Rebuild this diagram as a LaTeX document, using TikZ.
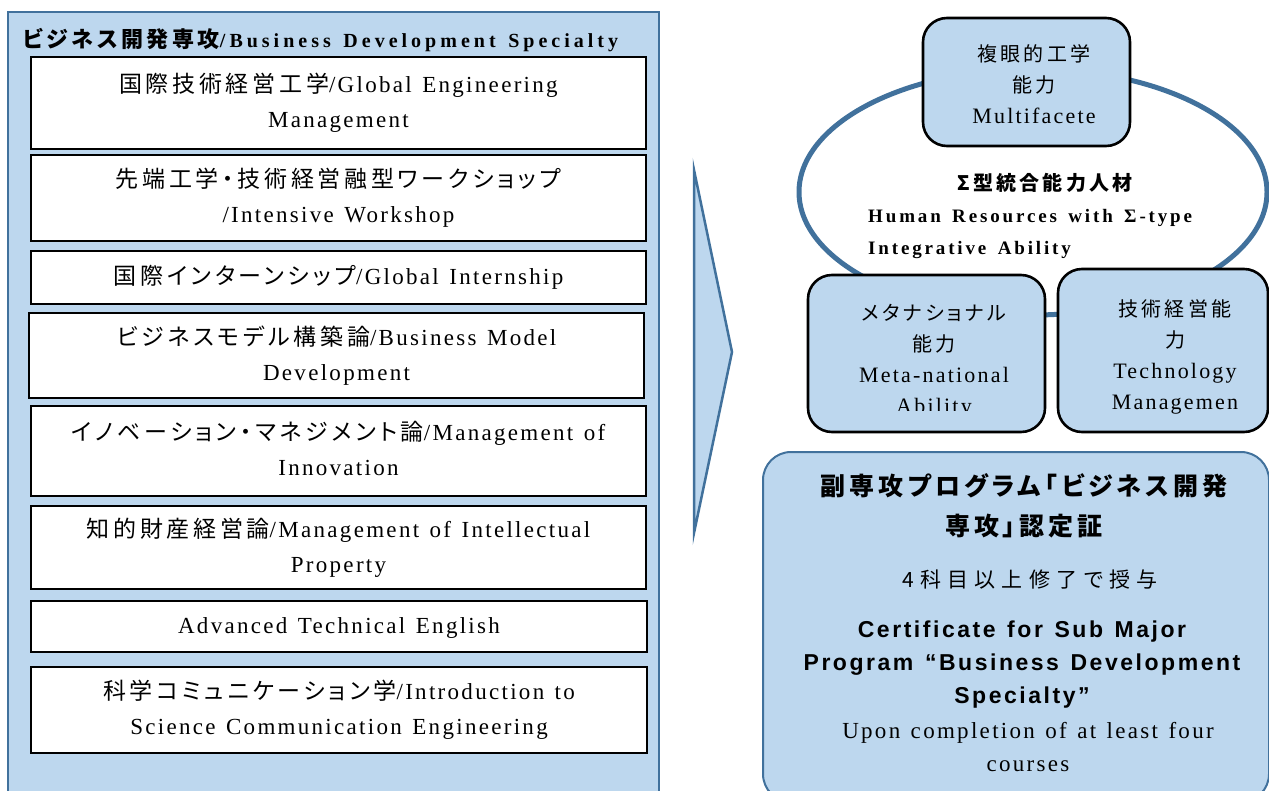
\documentclass[tikz,border=0pt]{standalone}
\usepackage{fontspec}
\setmainfont{Liberation Serif}[LetterSpace=10, WordSpace=1.3]
\newfontfamily\jp{Noto Sans CJK JP}[LetterSpace=16, RawFeature=+palt]
\newfontfamily\jpwide{Noto Sans CJK JP}[LetterSpace=30, RawFeature=+palt]
\newfontfamily\titlefont{Liberation Serif}[LetterSpace=20, WordSpace=1.4]
\newfontfamily\hrfont{Liberation Serif}[LetterSpace=15, WordSpace=1.5]
\newfontfamily\sansb{Liberation Sans}[LetterSpace=11, WordSpace=1.3]
\usetikzlibrary{shapes.geometric,positioning}
\definecolor{panelColor}{HTML}{BDD7EE}
\definecolor{edgeColor}{HTML}{41719C}
\newcommand{\fs}[2]{\fontsize{#1}{#2}\selectfont}
\newcommand{\jps}[1]{{\jp\fs{20}{31}#1}}
\tikzset{
	panel/.style={draw=edgeColor, fill=panelColor, line width=2pt, inner sep=0pt, outer sep=0pt},
	course/.style={draw, fill=white, line width=1.6pt, minimum width=615, inner sep=0pt, font=\fs{23}{35}},
	skill/.style={draw, fill=panelColor, line width=2.6pt, rounded corners=24pt, inner sep=0pt},
	skilltext/.style={font=\fs{22}{31}, inner sep=0pt},
	ring/.style={ellipse, draw=edgeColor, line width=5pt, inner sep=0pt},
	cert/.style={draw=edgeColor, fill=panelColor, line width=2pt, rounded corners=28pt, inner sep=0pt},
}

\begin{document}
\begin{tikzpicture}[x=1pt, y=-1pt]
	\useasboundingbox (0,0) rectangle (1269,790);
	% left column: the courses
	\node[panel, minimum width=651, minimum height=790, anchor=north west] (panel) at (8,12) {};
	\node[anchor=west, font=\fs{20}{24}, inner sep=0pt] (title) at (23,40) {{\jp\bfseries\fs{22}{24}ビジネス開発専攻}{\titlefont\bfseries /Business Development Specialty}};
	\node[course, minimum height=92] (c1) at (338.5,103) {\begin{tabular}{c} {\jp 国際技術経営工学}/Global Engineering \\ Management \end{tabular}};
	\node[course, minimum height=86] (c2) at (338.5,198) {\begin{tabular}{c} {\jp 先端工学・技術経営融型ワークショップ} \\ /Intensive Workshop \end{tabular}};
	\node[course, minimum height=53] (c3) at (338.5,277.5) {\begin{tabular}{c} {\jp 国際インターンシップ}/Global Internship \end{tabular}};
	\node[course, minimum height=85] (c4) at (336.5,355.5) {\begin{tabular}{c} {\jp ビジネスモデル構築論}/Business Model \\ Development \end{tabular}};
	\node[course, minimum height=90] (c5) at (338.5,451) {\begin{tabular}{c} {\jp イノベーション・マネジメント論}/Management of \\ Innovation \end{tabular}};
	\node[course, minimum height=83] (c6) at (338.5,547.5) {\begin{tabular}{c} {\jp 知的財産経営論}/Management of Intellectual \\ Property \end{tabular}};
	\node[course, minimum height=51, minimum width=616] (c7) at (339,626.5) {\begin{tabular}{c} Advanced Technical English \end{tabular}};
	\node[course, minimum height=86, minimum width=616] (c8) at (339,710) {\begin{tabular}{c} {\jp 科学コミュニケーション学}/Introduction to \\ Science Communication Engineering \end{tabular}};

	\draw[draw=edgeColor, fill=panelColor, line width=2.5pt, line join=miter] (694,170) -- (732,352) -- (694,533) -- cycle;

	% right column: the three abilities round the ring
	\node[ring, minimum width=468, minimum height=246] (ring) at (1033,192) {};
	\node[font=\fs{20}{24}, inner sep=0pt] (sigma) at (1045,183) {{\jp\bfseries Σ型統合能力人材}};
	\node[anchor=west, font=\fs{19}{32}, inner sep=0pt] (hr) at (868,232) {\begin{tabular}{@{}l@{}} {\hrfont\bfseries Human Resources with Σ-type} \\ {\hrfont\bfseries Integrative Ability} \end{tabular}};

	\node[skill, minimum width=207, minimum height=128] (s1) at (1026.5,82) {};
	\node[skilltext] (s1t) at (1034,86.5) {\begin{tabular}{c} \jps{複眼的工学} \\ \jps{能力} \\ Multifacete \end{tabular}};
	\node[skill, minimum width=237, minimum height=157] (s2) at (926.5,353.5) {};
	\begin{scope}
		\clip (808,275) rectangle (1045,410);
		\node[skilltext] (s2t) at (934,361) {\begin{tabular}{c} \jps{メタナショナル} \\ \jps{能力} \\ Meta-national \\ Ability \end{tabular}};
	\end{scope}
	\node[skill, minimum width=210, minimum height=163] (s3) at (1163,350.5) {};
	\node[skilltext] (s3t) at (1175,356.5) {\begin{tabular}{c} \jps{技術経営能} \\ \jps{力} \\ Technology \\ Managemen \end{tabular}};

	% the certificate
	\node[cert, minimum width=506, minimum height=350, anchor=north west] (cert) at (762,451) {};
	\node[font=\fs{25}{40}, inner sep=0pt] (certjp) at (1024,507) {\begin{tabular}{c} {\jp\bfseries 副専攻プログラム「ビジネス開発} \\ {\jp\bfseries 専攻」認定証} \end{tabular}};
	\node[font=\fs{21}{26}, inner sep=0pt] (certnote) at (1030,580) {{\jpwide 4科目以上修了で授与}};
	\node[font=\fs{23}{33}, inner sep=0pt] (certen) at (1022,664) {\begin{tabular}{c} {\sansb\bfseries Certificate for Sub Major} \\ {\sansb\bfseries Program “Business Development} \\ {\sansb\bfseries Specialty”} \end{tabular}};
	\node[font=\fs{23}{33}, inner sep=0pt] (certup) at (1028,748) {\begin{tabular}{c} Upon completion of at least four \\ courses \end{tabular}};
\end{tikzpicture}
\end{document}
